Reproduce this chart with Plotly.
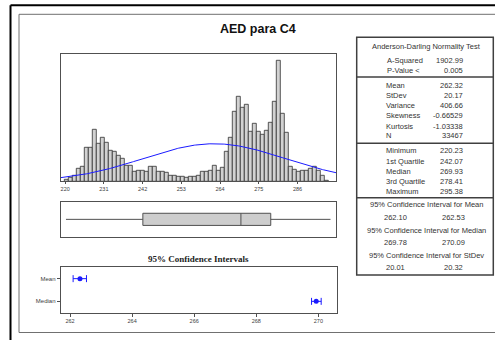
import numpy as np
import plotly.graph_objects as go

# ---------------- data ----------------
bin_start = 219.86
bin_width = 1.136
counts = [40, 67, 107, 253, 287, 667, 667, 1034, 754, 867, 774, 620, 587, 520, 454,
          320, 320, 200, 220, 220, 187, 300, 287, 200, 200, 173, 120, 107, 100, 100,
          67, 100, 100, 107, 187, 187, 220, 307, 220, 267, 587, 867, 1400, 1687, 1467,
          1534, 1000, 1154, 987, 934, 1020, 1174, 1587, 2421, 1354, 967, 287, 240, 187,
          220, 220, 253, 287, 220, 107, 20]

mean_val = 262.32
stdev_val = 20.17
n_obs = 33467
q1_val = 242.07
median_val = 269.93
q3_val = 278.41
min_val = 220.23
max_val = 295.38
ci_mean = [262.10, 262.53]
ci_median = [269.78, 270.09]
ci_stdev = [20.01, 20.32]

hist_ticks = [220, 231, 242, 253, 264, 275, 286]
ci_ticks = [262, 264, 266, 268, 270]
ci_labels = ["Mean", "Median"]

ad_rows = [("A-Squared", "1902.99"), ("P-Value <", "0.005")]
moment_rows = [("Mean", "262.32"), ("StDev", "20.17"), ("Variance", "406.66"),
               ("Skewness", "-0.66529"), ("Kurtosis", "-1.03338"), ("N", "33467")]
quant_rows = [("Minimum", "220.23"), ("1st Quartile", "242.07"), ("Median", "269.93"),
              ("3rd Quartile", "278.41"), ("Maximum", "295.38")]
ci_rows = [("95% Confidence Interval for Mean", "262.10", "262.53"),
           ("95% Confidence Interval for Median", "269.78", "270.09"),
           ("95% Confidence Interval for StDev", "20.01", "20.32")]

# ---------------- layout helpers ----------------
W, H = 495, 340
def px(x):
    return x / W
def py(y):
    return 1 - y / H

xr = [218.73, 297.03]
FONT = "Liberation Sans"
TXT = "#333333"
EDGE = "#505050"
BLUE = "#1a1aff"

fig = go.Figure()

# histogram
centers = [bin_start + bin_width * (i + 0.5) for i in range(len(counts))]
fig.add_trace(go.Bar(x=centers, y=counts, width=bin_width,
                     marker=dict(color="#d2d2d2", line=dict(color="#303030", width=0.8)),
                     xaxis="x", yaxis="y", showlegend=False, hoverinfo="skip"))

# normal curve from mean / stdev
xs = np.linspace(xr[0], xr[1], 300)
ys = n_obs * bin_width / (stdev_val * np.sqrt(2 * np.pi)) * np.exp(-0.5 * ((xs - mean_val) / stdev_val) ** 2)
fig.add_trace(go.Scatter(x=xs, y=ys, mode="lines", line=dict(color=BLUE, width=1),
                         xaxis="x", yaxis="y", showlegend=False, hoverinfo="skip"))

# box plot
fig.add_trace(go.Box(y=[0], q1=[q1_val], median=[median_val], q3=[q3_val],
                     lowerfence=[min_val], upperfence=[max_val], orientation="h",
                     width=0.7, whiskerwidth=0, boxpoints=False,
                     fillcolor="#cdcdcd", line=dict(color=EDGE, width=1),
                     xaxis="x2", yaxis="y2", showlegend=False, hoverinfo="skip"))

# confidence intervals
ci_centers = [mean_val, median_val]
ci_lo = [ci_mean[0], ci_median[0]]
ci_hi = [ci_mean[1], ci_median[1]]
fig.add_trace(go.Scatter(x=ci_centers, y=[0, 1], mode="markers",
                         marker=dict(color=BLUE, size=5),
                         error_x=dict(type="data", symmetric=False,
                                      array=[h - c for h, c in zip(ci_hi, ci_centers)],
                                      arrayminus=[c - l for l, c in zip(ci_lo, ci_centers)],
                                      color=BLUE, thickness=1, width=3.5),
                         xaxis="x3", yaxis="y3", showlegend=False, hoverinfo="skip"))

axis_common = dict(showgrid=False, zeroline=False, showline=True, mirror=True,
                   linecolor=EDGE, linewidth=1)
tickfont = dict(family=FONT, size=5.5, color="#404040")

fig.update_layout(
    width=W, height=H, margin=dict(l=0, r=0, t=0, b=0),
    paper_bgcolor="white", plot_bgcolor="white", bargap=0,
    xaxis=dict(domain=[px(60.7), px(336.3)], range=xr, anchor="y",
               tickvals=hist_ticks, ticks="outside", ticklen=2, tickcolor=EDGE,
               tickfont=tickfont, **axis_common),
    yaxis=dict(domain=[py(181.3), py(53.7)], range=[0, 2555], anchor="x",
               showticklabels=False, ticks="", **axis_common),
    xaxis2=dict(domain=[px(60.7), px(336.3)], range=xr, anchor="y2",
                showticklabels=False, ticks="", **axis_common),
    yaxis2=dict(domain=[py(236.7), py(202)], range=[-1, 1], anchor="x2",
                showticklabels=False, ticks="", **axis_common),
    xaxis3=dict(domain=[px(60.7), px(336.7)], range=[261.70, 270.59], anchor="y3",
                tickvals=ci_ticks, ticks="outside", ticklen=3, tickcolor=EDGE,
                tickfont=tickfont, **axis_common),
    yaxis3=dict(domain=[py(312.7), py(267.3)], range=[1.5, -0.5], anchor="x3",
                tickvals=[0, 1], ticktext=ci_labels, ticks="outside", ticklen=3,
                tickcolor=EDGE, tickfont=dict(family=FONT, size=6, color="#404040"),
                **axis_common),
)

shapes = []
# outer frame lines
shapes.append(dict(type="line", xref="paper", yref="paper", x0=px(10.5), x1=px(500),
                   y0=py(5.3), y1=py(5.3), line=dict(color="black", width=2)))
shapes.append(dict(type="line", xref="paper", yref="paper", x0=px(10.5), x1=px(10.5),
                   y0=py(5.3), y1=py(345), line=dict(color="black", width=2)))
# inner gray frame
shapes.append(dict(type="rect", xref="paper", yref="paper", x0=px(19), x1=px(505),
                   y0=py(332.5), y1=py(14.3), line=dict(color="#707070", width=1)))
# stats table
shapes.append(dict(type="rect", xref="paper", yref="paper", x0=px(356.7), x1=px(493.3),
                   y0=py(275), y1=py(37.3), line=dict(color="#404040", width=1.5)))
for yy in [77, 143.3, 197.7]:
    shapes.append(dict(type="line", xref="paper", yref="paper", x0=px(356.7), x1=px(493.3),
                       y0=py(yy), y1=py(yy), line=dict(color="#404040", width=1.5)))
fig.update_layout(shapes=shapes)

ann = []
def text(x, y, s, anchor="center", size=7.5, bold=False, family=FONT, color=TXT):
    ann.append(dict(x=px(x), y=py(y), xref="paper", yref="paper", text=s,
                    showarrow=False, xanchor=anchor, yanchor="middle",
                    font=dict(family=family, size=size, color=color)))

text(257.5, 29.3, "<b>AED para C4</b>", size=12.5, color="#111111")
text(198, 259, "<b>95% Confidence Intervals</b>", size=9, family="Liberation Serif",
     color="#222222")

text(426, 47, "Anderson-Darling Normality Test")
for (lab, val), yy in zip(ad_rows, [60, 70.3]):
    text(384.5, yy, lab, anchor="left")
    text(465, yy, val, anchor="right")
for (lab, val), yy in zip(moment_rows, [85.3, 95.7, 105.7, 115.7, 126, 135.7]):
    text(384, yy, lab, anchor="left")
    text(465, yy, val, anchor="right")
for (lab, val), yy in zip(quant_rows, [150.7, 161, 171.7, 181.7, 191.7]):
    text(384, yy, lab, anchor="left")
    text(464.5, yy, val, anchor="right")
for (head, lo, hi), yh, yv in zip(ci_rows, [204, 230, 255], [217.3, 242, 267.3]):
    text(426, yh, head)
    text(395.5, yv, lo)
    text(453, yv, hi)

fig.update_layout(annotations=ann)
fig.write_html("out.html")
